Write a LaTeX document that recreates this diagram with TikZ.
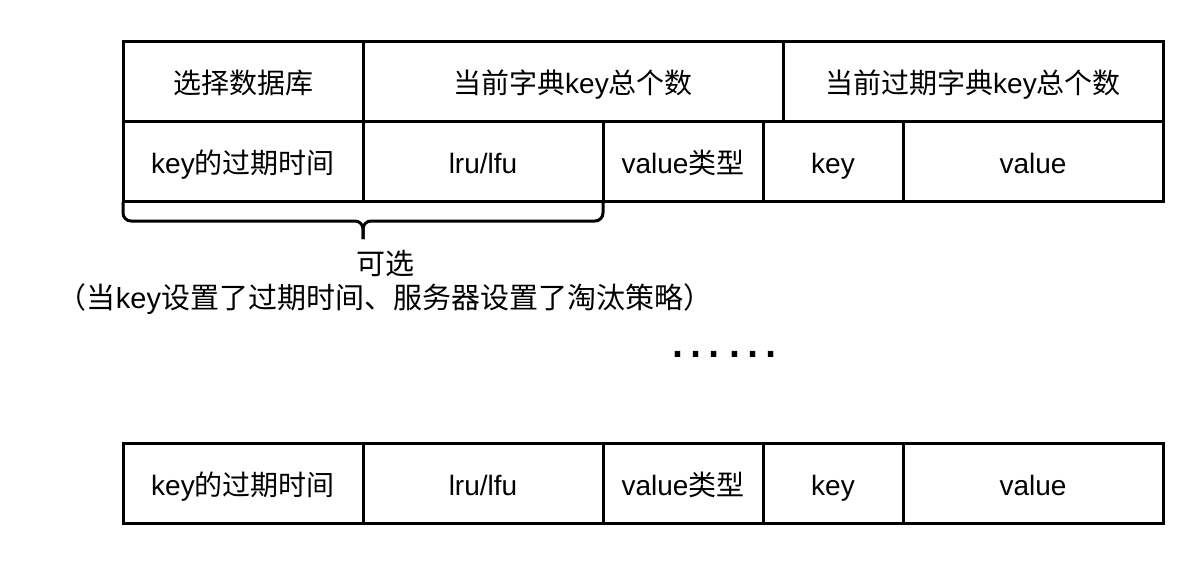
\documentclass[tikz,border=0pt]{standalone}
\usepackage{fontspec}
\setmainfont{Liberation Sans}
\newfontfamily\cjk{Noto Sans CJK SC}
\usetikzlibrary{positioning}

\begin{document}
\begin{tikzpicture}[x=1pt, y=1pt,
  cell/.style={draw, line width=3pt, minimum height=80pt, inner sep=0pt,
    outer sep=0pt, text height=26pt, text depth=2pt,
    font=\fontsize{28}{32}\selectfont},
  brc/.style={line width=3pt, rounded corners=8pt},
  note/.style={align=center, font=\fontsize{29}{34}\selectfont}]
\useasboundingbox (0,0) rectangle (1204,-564);
% header row
\node[cell, minimum width=240pt, anchor=north west] (db) at (123,-42) {{\cjk 选择数据库}};
\node[cell, minimum width=420pt, right=0pt of db] (cnt) {{\cjk 当前字典}key{\cjk 总个数}};
\node[cell, minimum width=380pt, right=0pt of cnt] (ecnt) {{\cjk 当前过期字典}key{\cjk 总个数}};
% first key/value entry
\node[cell, minimum width=240pt, below=0pt of db] (exp) {key{\cjk 的过期时间}};
\node[cell, minimum width=240pt, right=0pt of exp] (lru) {lru/lfu};
\node[cell, minimum width=160pt, right=0pt of lru] (vtype) {value{\cjk 类型}};
\node[cell, minimum width=140pt, right=0pt of vtype] (key) {key};
\node[cell, minimum width=260pt, right=0pt of key] (val) {value};
% brace under the optional part
\coordinate (tip) at ([yshift=-37pt]exp.south east);
\draw[brc] (exp.south west) |- ([yshift=18pt]tip) -- (tip);
\draw[brc] (lru.south east) |- ([yshift=18pt]tip) -- (tip);
\node[note, below=8pt of tip, xshift=22pt] (opt)
  {{\cjk 可选}\\{\cjk （当}key{\cjk 设置了过期时间、服务器设置了淘汰策略）}};
\node[font=\fontsize{57}{60}\selectfont, anchor=base] (dots) at (724,-357) {……};
% last key/value entry
\node[cell, minimum width=240pt, anchor=north west] (exp2) at (123,-443) {key{\cjk 的过期时间}};
\node[cell, minimum width=240pt, right=0pt of exp2] (lru2) {lru/lfu};
\node[cell, minimum width=160pt, right=0pt of lru2] (vtype2) {value{\cjk 类型}};
\node[cell, minimum width=140pt, right=0pt of vtype2] (key2) {key};
\node[cell, minimum width=260pt, right=0pt of key2] (val2) {value};
\end{tikzpicture}
\end{document}
